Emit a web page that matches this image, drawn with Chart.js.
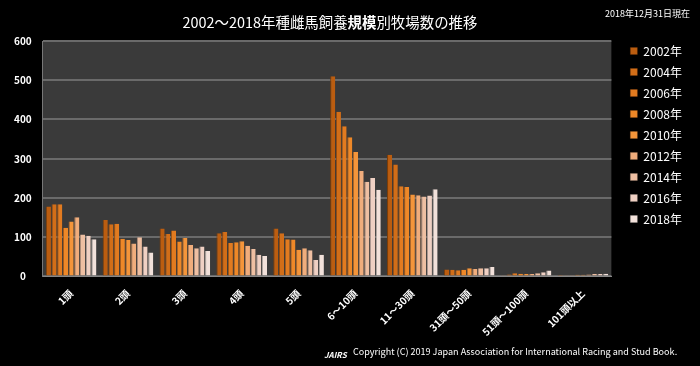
<!DOCTYPE html>
<html><head><meta charset="utf-8">
<script src="https://cdn.jsdelivr.net/npm/chart.js@4"></script>
<style>html,body{margin:0;padding:0;background:#000;}#wrap{width:700px;height:366px;}</style>
</head><body><div id="wrap"><canvas id="c" width="700" height="366"></canvas></div>
<script>
const categories = ['1頭','2頭','3頭','4頭','5頭','6～10頭','11～30頭','31頭～50頭','51頭～100頭','101頭以上'];
const years = ['2002年','2004年','2006年','2008年','2010年','2012年','2014年','2016年','2018年'];
const v2002 = [178, 144, 122, 110, 122, 510, 310, 18, 3, 1];
const v2004 = [184, 133, 108, 113, 110, 420, 285, 17, 5, 2];
const v2006 = [184, 134, 117, 85, 95, 383, 230, 16, 8, 3];
const v2008 = [124, 96, 89, 87, 94, 355, 228, 17, 7, 4];
const v2010 = [140, 93, 98, 90, 68, 317, 209, 21, 6, 4];
const v2012 = [151, 84, 80, 78, 72, 269, 207, 19, 6, 5];
const v2014 = [107, 100, 72, 70, 67, 241, 204, 21, 8, 6];
const v2016 = [104, 76, 76, 55, 42, 251, 206, 21, 11, 6];
const v2018 = [95, 61, 65, 52, 55, 221, 222, 24, 15, 7];
const yTicks = [0, 100, 200, 300, 400, 500, 600];

const seriesValues = [v2002, v2004, v2006, v2008, v2010, v2012, v2014, v2016, v2018];
const colors = ['#bb5d10','#d26e18','#e27b20','#ee8828','#f4953a','#f0ad7c','#eebfa2','#efd0c3','#f2e1da'];
const borders = ['#7e3e08','#94480c','#a05210','#aa5a16','#b06626','#b07e5a','#b08e7a','#b09c94','#b4aaa4'];

const FONT = '"Noto Sans CJK JP", "Noto Sans", sans-serif';

function fitFont(ctx, text, weight, width) {
  ctx.font = weight + ' 20px ' + FONT;
  const w = ctx.measureText(text).width;
  return 20 * width / w;
}

const bgPlugin = {
  id: 'bg',
  afterLayout(chart) {
    const lg = chart.legend;
    if (lg) { lg.left += 10; lg.right += 10; lg.top -= 5; lg.bottom -= 5; }
  },
  beforeDraw(chart) {
    const {ctx, chartArea: a} = chart;
    ctx.save();
    ctx.fillStyle = '#000';
    ctx.fillRect(0, 0, chart.width, chart.height);
    ctx.fillStyle = '#3a3a3a';
    ctx.fillRect(a.left, a.top, a.right - a.left, a.bottom - a.top);
    ctx.restore();
  },
  afterDraw(chart) {
    const ctx = chart.ctx;
    ctx.save();
    ctx.fillStyle = '#fff';
    ctx.textBaseline = 'middle';
    const parts = [['2002～2018年種雌馬飼養', 'normal'], ['規模', 'bold'], ['別牧場数の推移', 'normal']];
    const size = fitFont(ctx, parts.map(p => p[0]).join(''), 'normal', 295);
    let total = 0;
    parts.forEach(p => { ctx.font = p[1] + ' ' + size + 'px ' + FONT; total += ctx.measureText(p[0]).width; });
    let x = 330 - total / 2;
    parts.forEach(p => { ctx.font = p[1] + ' ' + size + 'px ' + FONT; ctx.textAlign = 'left'; ctx.fillText(p[0], x, 23); x += ctx.measureText(p[0]).width; });
    ctx.font = '9px ' + FONT;
    ctx.textAlign = 'right';
    ctx.fillText('2018年12月31日現在', 690, 14);
    const copy = 'Copyright (C) 2019 Japan Association for International Racing and Stud Book.';
    const cs = fitFont(ctx, copy, 'normal', 325);
    ctx.font = cs + 'px ' + FONT;
    ctx.textAlign = 'left';
    ctx.fillText(copy, 353, 352);
    ctx.font = 'italic bold 8px ' + FONT;
    ctx.fillText('JAIRS', 324, 355);
    ctx.restore();
  }
};

new Chart(document.getElementById('c'), {
  type: 'bar',
  data: {
    labels: categories,
    datasets: years.map((y, i) => ({
      label: y,
      data: seriesValues[i],
      backgroundColor: colors[i],
      borderColor: borders[i],
      borderWidth: {left: 1, right: 0, top: 0, bottom: 0},
      barPercentage: 0.9,
      categoryPercentage: 0.9
    }))
  },
  options: {
    responsive: false,
    animation: false,
    devicePixelRatio: 1,
    layout: { padding: { top: 41, left: 3, right: 18, bottom: 25 } },
    plugins: {
      title: { display: false },
      tooltip: { enabled: false },
      legend: {
        position: 'right',
        align: 'start',
        labels: {
          color: '#fff',
          boxWidth: 7,
          boxHeight: 7,
          padding: 9,
          font: { family: FONT, size: 12 }
        }
      }
    },
    scales: {
      x: {
        grid: { display: false },
        border: { color: '#888', width: 1 },
        ticks: {
          color: '#fff',
          maxRotation: 45,
          minRotation: 45,
          font: { family: FONT, size: 10, weight: 'bold' }
        }
      },
      y: {
        min: 0,
        max: 600,
        afterBuildTicks(axis) { axis.ticks = yTicks.map(v => ({ value: v })); },
        grid: { color: '#6a6a6a', lineWidth: 2, drawTicks: false },
        border: { color: '#777', width: 1 },
        ticks: {
          color: '#fff',
          padding: 11,
          crossAlign: 'center',
          font: { family: FONT, size: 10, weight: 'bold' }
        }
      }
    }
  },
  plugins: [bgPlugin]
});
</script>
</body></html>
